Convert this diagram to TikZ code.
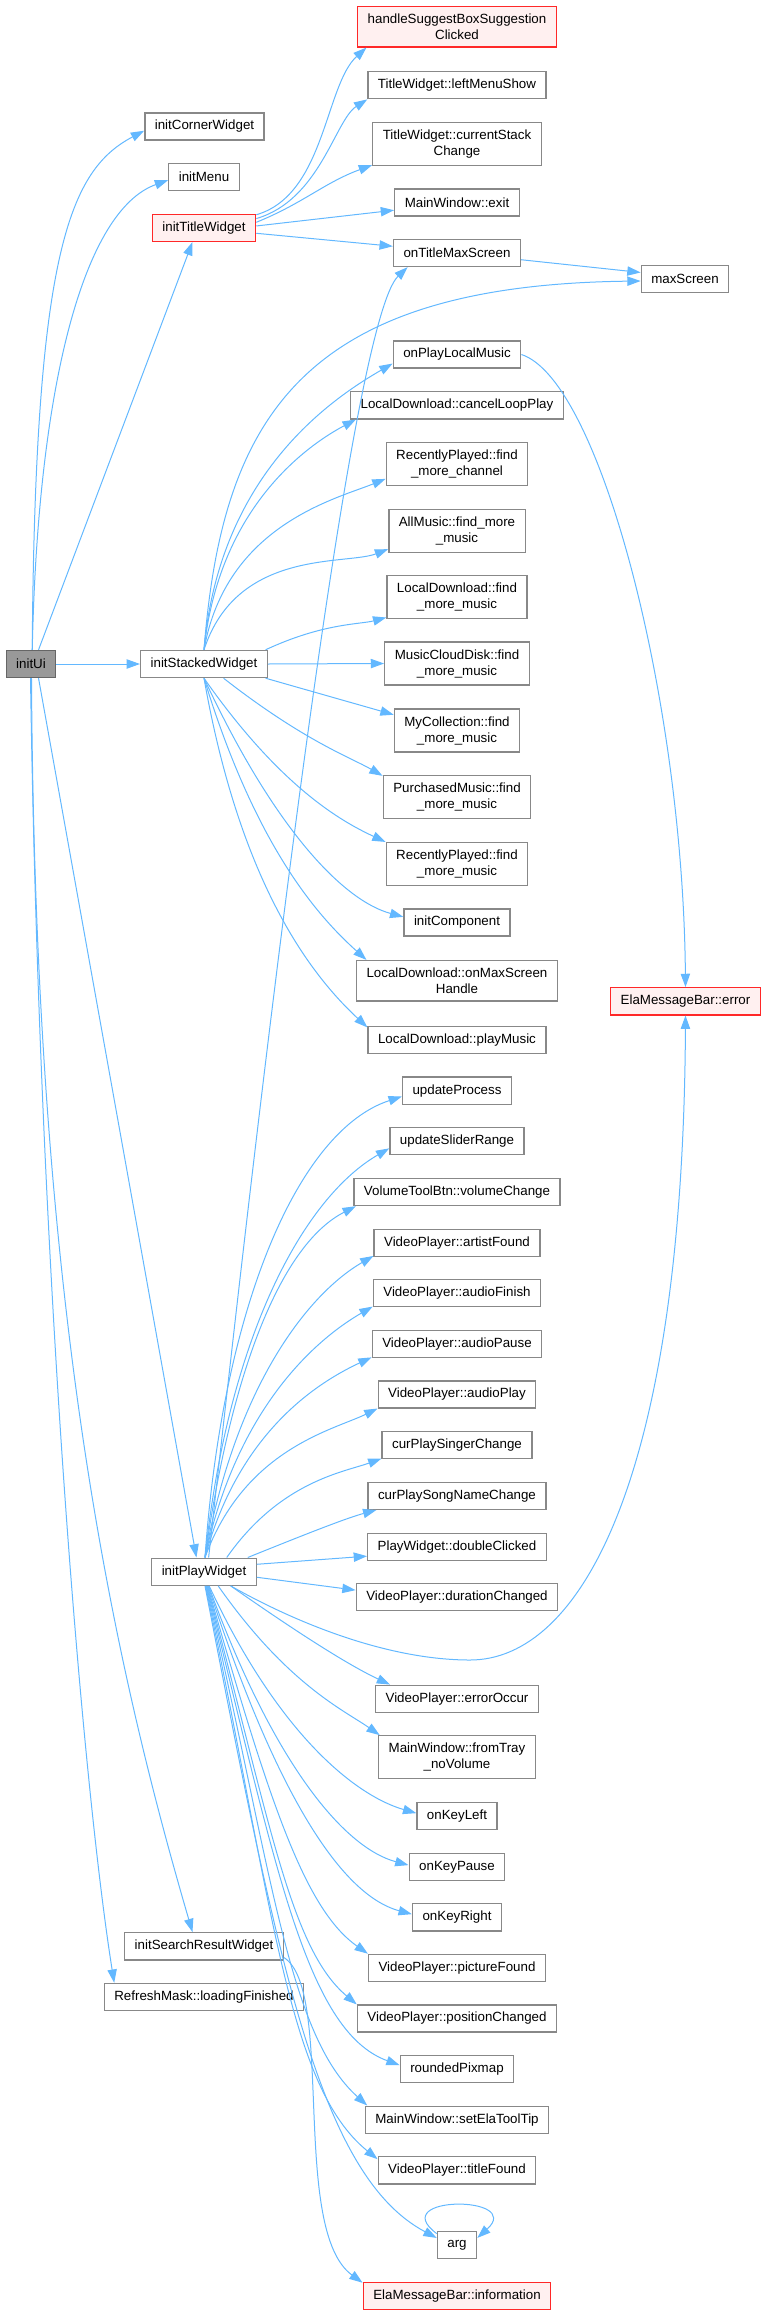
\documentclass[tikz,border=0pt]{standalone}
\usepackage{fontspec}
\setmainfont{Liberation Sans}
\usetikzlibrary{arrows.meta}
\definecolor{edgeblue}{RGB}{99,184,255}
\definecolor{boxgray}{RGB}{136,136,136}
\definecolor{rootgray}{RGB}{153,153,153}
\definecolor{rootline}{RGB}{102,102,102}
\definecolor{truncred}{RGB}{255,40,40}
\definecolor{truncfill}{RGB}{255,240,240}
\begin{document}
\begin{tikzpicture}[x=0.75pt, y=0.75pt,
        fn/.style={draw=boxgray, fill=white, line width=1pt, inner xsep=7.5pt, inner ysep=5.5pt, minimum height=20.25pt, align=center, font=\fontsize{10}{12}\selectfont},
        root/.style={fn, draw=rootline, fill=rootgray},
        trunc/.style={fn, draw=truncred, fill=truncfill},
        edge/.style={-{Triangle[length=10pt,width=7pt]}, edgeblue, line width=0.75pt},
        upfan/.style={edge, out looseness=1.3, in looseness=0.55},
        downfan/.style={edge, out looseness=1.4, in looseness=0.5}
      ]
        \useasboundingbox (0,0) rectangle (761,-2315);
        \node[root] (ui) at (31,-664) {initUi};
        \node[fn] (corner) at (204.5,-126.5) {initCornerWidget};
        \node[fn] (menu) at (204,-177) {initMenu};
        \node[trunc] (title) at (204,-227.8) {initTitleWidget};
        \node[fn] (stacked) at (204,-664) {initStackedWidget};
        \node[fn] (play) at (204,-1571.7) {initPlayWidget};
        \node[fn] (search) at (204,-1946.3) {initSearchResultWidget};
        \node[fn] (refresh) at (204,-1997) {RefreshMask::loadingFinished};

        \node[trunc] (suggest) at (457,-26.7) {handleSuggestBoxSuggestion\\Clicked};
        \node[fn] (leftmenu) at (457,-85.2) {TitleWidget::leftMenuShow};
        \node[fn] (curstack) at (457,-144) {TitleWidget::currentStack\\Change};
        \node[fn] (mwexit) at (457,-202.5) {MainWindow::exit};
        \node[fn] (titlemax) at (457,-253) {onTitleMaxScreen};
        \node[fn] (maxscr) at (685,-278.7) {maxScreen};
        \node[fn] (playlocal) at (457,-354.5) {onPlayLocalMusic};
        \node[fn] (cancelloop) at (457,-405.3) {LocalDownload::cancelLoopPlay};
        \node[fn] (rpchannel) at (457,-463.7) {RecentlyPlayed::find\\\_more\_channel};
        \node[fn] (allmore) at (457,-530.7) {AllMusic::find\_more\\\_music};
        \node[fn] (ldmore) at (457,-597.2) {LocalDownload::find\\\_more\_music};
        \node[fn] (cloudmore) at (457,-663.5) {MusicCloudDisk::find\\\_more\_music};
        \node[fn] (collmore) at (457,-730.5) {MyCollection::find\\\_more\_music};
        \node[fn] (purchmore) at (457,-797.2) {PurchasedMusic::find\\\_more\_music};
        \node[fn] (rpmore) at (457,-863.8) {RecentlyPlayed::find\\\_more\_music};
        \node[fn] (initcomp) at (457,-922.5) {initComponent};
        \node[fn] (ldmaxscr) at (457,-980.8) {LocalDownload::onMaxScreen\\Handle};
        \node[fn] (ldplay) at (457,-1040) {LocalDownload::playMusic};
        \node[trunc] (elaerror) at (685.5,-1001.3) {ElaMessageBar::error};
        \node[fn] (updproc) at (457,-1090.7) {updateProcess};
        \node[fn] (updslider) at (457,-1141.2) {updateSliderRange};
        \node[fn] (volchange) at (457,-1192) {VolumeToolBtn::volumeChange};
        \node[fn] (artist) at (457,-1242.7) {VideoPlayer::artistFound};
        \node[fn] (afinish) at (457,-1293.2) {VideoPlayer::audioFinish};
        \node[fn] (apause) at (457,-1343.8) {VideoPlayer::audioPause};
        \node[fn] (aplay) at (457,-1394.5) {VideoPlayer::audioPlay};
        \node[fn] (singer) at (457,-1445.2) {curPlaySingerChange};
        \node[fn] (songname) at (457,-1495.8) {curPlaySongNameChange};
        \node[fn] (dblclick) at (457,-1546.7) {PlayWidget::doubleClicked};
        \node[fn] (duration) at (457,-1597.2) {VideoPlayer::durationChanged};
        \node[fn] (erroccur) at (457,-1698.8) {VideoPlayer::errorOccur};
        \node[fn] (fromtray) at (457,-1757.3) {MainWindow::fromTray\\\_noVolume};
        \node[fn] (keyleft) at (457,-1816) {onKeyLeft};
        \node[fn] (keypause) at (457,-1866.8) {onKeyPause};
        \node[fn] (keyright) at (457,-1917.3) {onKeyRight};
        \node[fn] (picture) at (457,-1967.8) {VideoPlayer::pictureFound};
        \node[fn] (position) at (457,-2018.5) {VideoPlayer::positionChanged};
        \node[fn] (pixmap) at (457,-2069.2) {roundedPixmap};
        \node[fn] (tooltip) at (457,-2119.7) {MainWindow::setElaToolTip};
        \node[fn] (titlefound) at (457,-2170.3) {VideoPlayer::titleFound};
        \node[fn] (arg) at (457,-2245.3) {arg};
        \node[trunc] (elainfo) at (457,-2296) {ElaMessageBar::information};

        \draw[edge] (ui.85) .. controls (35,-250) and (70,-170) .. (corner.184);
        \draw[edge] (ui.85) .. controls (38,-380) and (85,-210) .. (menu.185);
        \draw[edge] (ui.62) -- (title.231);
        \draw[edge] (ui.east) -- (stacked.west);
        \draw[edge] (ui.-62) -- (play.118);
        \draw[edge] (ui.-88) .. controls (35,-1300) and (110,-1650) .. (search.129);
        \draw[edge] (ui.-92) .. controls (40,-1300) and (85,-1800) .. (refresh.171);

        \draw[edge] (title.14) .. controls (325,-195) and (325,-85) .. (suggest.193);
        \draw[edge] (title.10) .. controls (320,-200) and (335,-120) .. (leftmenu.189);
        \draw[edge] (title.6) to[out=22,in=200] (curstack.194);
        \draw[edge] (title.2) -- (mwexit.187);
        \draw[edge] (title.-6) -- (titlemax.174);
        \draw[edge] (titlemax.-6) -- (maxscr.172);

        \draw[edge] (stacked.north) .. controls (222,-420) and (300,-285) .. (maxscr.183);
        \foreach \s/\t/\a/\o/\i in {north/playlocal/188/85/210, north/cancelloop/188/84/208, north/rpchannel/192/80/202, north/allmore/195/72/201, 13/ldmore/196/25/195}
          \draw[upfan] (stacked.\s) to[out=\o,in=\i] (\t.\a);
        \draw[edge] (stacked.east) -- (cloudmore.west);
        \draw[edge] (stacked.-13) -- (collmore.166);
        \foreach \s/\t/\a/\o/\i in {-36/purchmore/164/-38/150, south/rpmore/163/-55/155, south/initcomp/174/-65/165, south/ldmaxscr/167/-73/138, south/ldplay/172/-80/137}
          \draw[downfan] (stacked.\s) to[out=\o,in=\i] (\t.\a);
        \draw[edge] (playlocal.east) .. controls (600,-380) and (683,-700) .. (elaerror.north);

        \draw[edge] (play.72) .. controls (270,-1000) and (352,-320) .. (titlemax.196);
        \foreach \s/\t/\a/\o/\i in {86/updproc/186/86/198, 86/updslider/186/84/210, 86/volchange/188/82/207, 86/artist/189/80/210, 86/afinish/189/78/210, 86/apause/189/75/205, 86/aplay/190/70/206, 32/singer/190/55/200, 18/songname/190/22/195}
          \draw[upfan] (play.\s) to[out=\o,in=\i] (\t.\a);
        \draw[edge] (play.8) -- (dblclick.186);
        \draw[edge] (play.-6) -- (duration.176);
        \foreach \s/\t/\a/\o/\i in {-28/erroccur/168/-35/155, -45/fromtray/164/-55/145, -70/keyleft/176/-65/164, -72/keypause/178/-70/165, -74/keyright/176/-72/165, -76/picture/171/-74/145, -78/position/172/-75/140, -80/pixmap/176/-76/160, -82/tooltip/171/-77/138, -84/titlefound/172/-78/141, -86/arg/160/-79/152}
          \draw[downfan] (play.\s) to[out=\o,in=\i] (\t.\a);
        \coordinate (errbend) at (470,-1660);
        \draw[edge] (play.-28) .. controls (300,-1625) and (390,-1660) .. (errbend) .. controls (580,-1660) and (683,-1480) .. (elaerror.south);

        \draw[edge] (search.-8) .. controls (335,-1990) and (290,-2230) .. (elainfo.172);
        \draw[edge] (arg.150) .. controls (385,-2195) and (525,-2195) .. (arg.20);
      \end{tikzpicture}
\end{document}
